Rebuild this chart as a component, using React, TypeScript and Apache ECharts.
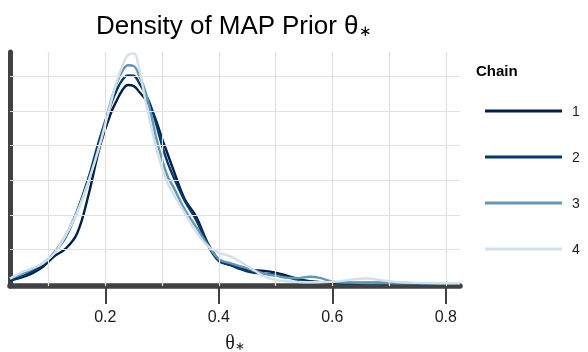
import React, { useEffect, useRef } from "react";
import * as echarts from "echarts";

const SANS = "'Liberation Sans', Arial, Helvetica, sans-serif";
const SERIF = "'Liberation Serif', 'Times New Roman', serif";

const chainNames = ["1", "2", "3", "4"];
const chainColors = ["#011f4b", "#03396c", "#6497b1", "#d1e1ec"];

const thetaGrid = [
  0.032, 0.05, 0.07, 0.09, 0.11, 0.13, 0.15, 0.17, 0.19, 0.21, 0.22, 0.23, 0.24, 0.25,
  0.26, 0.27, 0.28, 0.29, 0.3, 0.31, 0.32, 0.34, 0.36, 0.38, 0.4, 0.42, 0.44, 0.46,
  0.48, 0.5, 0.52, 0.54, 0.56, 0.58, 0.6, 0.63, 0.66, 0.69, 0.72, 0.76, 0.8, 0.825,
];

const chain1 = [
  0.1, 0.18, 0.3, 0.5, 0.8, 1.02, 1.45, 2.55, 3.95, 4.95, 5.3, 5.6, 5.75, 5.72,
  5.55, 5.35, 5.1, 4.7, 4.2, 3.75, 3.3, 2.45, 1.95, 1.2, 0.7, 0.55, 0.45, 0.4,
  0.38, 0.33, 0.24, 0.14, 0.08, 0.05, 0.04, 0.03, 0.03, 0.03, 0.03, 0.02, 0.02, 0.02,
];
const chain2 = [
  0.12, 0.2, 0.35, 0.55, 0.9, 1.35, 2.1, 3.05, 4.2, 5.2, 5.6, 5.9, 6.03, 6.02,
  5.8, 5.5, 5.15, 4.6, 4.0, 3.5, 3.1, 2.4, 1.85, 1.15, 0.66, 0.55, 0.42, 0.33,
  0.3, 0.27, 0.2, 0.12, 0.07, 0.05, 0.04, 0.03, 0.03, 0.03, 0.02, 0.02, 0.02, 0.02,
];
const chain3 = [
  0.15, 0.28, 0.42, 0.6, 0.9, 1.4, 2.1, 2.95, 4.05, 5.3, 5.8, 6.15, 6.32, 6.3,
  6.0, 5.6, 4.95, 4.2, 3.6, 3.1, 2.8, 2.15, 1.65, 1.15, 0.72, 0.6, 0.5, 0.4,
  0.3, 0.24, 0.18, 0.17, 0.21, 0.17, 0.07, 0.04, 0.03, 0.03, 0.02, 0.02, 0.02, 0.02,
];
const chain4 = [
  0.16, 0.32, 0.45, 0.6, 0.88, 1.4, 2.05, 2.95, 4.0, 5.25, 5.85, 6.3, 6.62, 6.66,
  6.2, 5.35, 4.6, 3.9, 3.35, 2.9, 2.6, 2.05, 1.5, 1.1, 0.9, 0.8, 0.62, 0.42,
  0.22, 0.12, 0.08, 0.06, 0.05, 0.05, 0.06, 0.12, 0.16, 0.1, 0.05, 0.03, 0.02, 0.02,
];
const chainDensities = [chain1, chain2, chain3, chain4];

const xTickValues = [0.2, 0.4, 0.6, 0.8];
const xGridValues = [0.1, 0.2, 0.3, 0.4, 0.5, 0.6, 0.7, 0.8];
const yGridValues = [1, 2, 3, 4, 5, 6];

export default function App() {
  const ref = useRef<HTMLDivElement>(null);

  useEffect(() => {
    if (!ref.current) return;
    const chart = echarts.init(ref.current, undefined, { renderer: "svg" });

    const gridLineStyle = { color: "#e0e0e0", width: 1.2, type: "solid" as const };

    const series: any[] = [
      {
        name: "__grid",
        type: "line",
        data: [],
        z: 1,
        silent: true,
        markLine: {
          silent: true,
          symbol: "none",
          label: { show: false },
          lineStyle: gridLineStyle,
          data: [
            ...xGridValues.map((v) => ({ xAxis: v })),
            ...yGridValues.map((v) => ({ yAxis: v })),
          ],
        },
      },
      ...chainNames.map((name, i) => ({
        name,
        type: "line",
        z: 3,
        smooth: 0.4,
        symbol: "none",
        showSymbol: false,
        lineStyle: { color: chainColors[i], width: 2.4 },
        itemStyle: { color: chainColors[i] },
        data: thetaGrid.map((t, j) => [t, chainDensities[i][j]]),
      })),
    ];

    chart.setOption({
      animation: false,
      textStyle: { fontFamily: SANS },
      title: [
        {
          text: "{m|Density of MAP Prior θ}{s|∗}",
          left: 96,
          top: 8,
          padding: 0,
          textStyle: {
            rich: {
              m: { fontSize: 26, fontWeight: "normal", fontFamily: SANS, color: "#000", lineHeight: 30, verticalAlign: "bottom" },
              s: { fontSize: 15, fontWeight: "normal", fontFamily: "'DejaVu Sans', sans-serif", color: "#000", lineHeight: 15, verticalAlign: "bottom" },
            },
          },
        },
        {
          text: "Chain",
          left: 476,
          top: 63,
          padding: 0,
          textStyle: { fontSize: 15, fontWeight: "bold", fontFamily: SANS, color: "#000" },
        },
      ],
      legend: {
        orient: "vertical",
        left: 485,
        top: 104,
        padding: 0,
        icon: "rect",
        itemWidth: 77,
        itemHeight: 3,
        itemGap: 32,
        data: chainNames,
        textStyle: { fontSize: 14, color: "#1a1a1a", fontFamily: SANS, padding: [0, 0, 0, 5] },
      },
      grid: { left: 10, right: 128, top: 52, bottom: 66, outerBoundsMode: "none", containLabel: false },
      xAxis: {
        type: "value",
        min: 0.032,
        max: 0.825,
        axisLine: { show: true, onZero: false, lineStyle: { color: "#414141", width: 5.5 } },
        axisTick: { show: true, customValues: xTickValues, length: 18, lineStyle: { color: "#414141", width: 2 } },
        axisLabel: {
          customValues: xTickValues,
          fontSize: 16,
          color: "#1a1a1a",
          margin: 22,
          fontFamily: SANS,
          formatter: (v: number) => v.toFixed(1),
        },
        splitLine: { show: false },
        name: "{t|θ}{s|∗}",
        nameLocation: "middle",
        nameGap: 46,
        nameTextStyle: {
          rich: {
            t: { fontSize: 20, fontFamily: SERIF, color: "#1a1a1a", lineHeight: 20, verticalAlign: "bottom" },
            s: { fontSize: 12, fontFamily: "'DejaVu Sans', sans-serif", color: "#1a1a1a", lineHeight: 12, verticalAlign: "bottom" },
          },
        },
      },
      yAxis: {
        type: "value",
        min: -0.058,
        max: 6.705,
        axisLine: { show: true, onZero: false, lineStyle: { color: "#414141", width: 5 } },
        axisTick: { show: false },
        axisLabel: { show: false },
        splitLine: { show: false },
      },
      series,
    });

    return () => chart.dispose();
  }, []);

  return (
    <div
      ref={ref}
      style={{ position: "fixed", left: 0, top: 0, width: 588, height: 352 }}
    />
  );
}
